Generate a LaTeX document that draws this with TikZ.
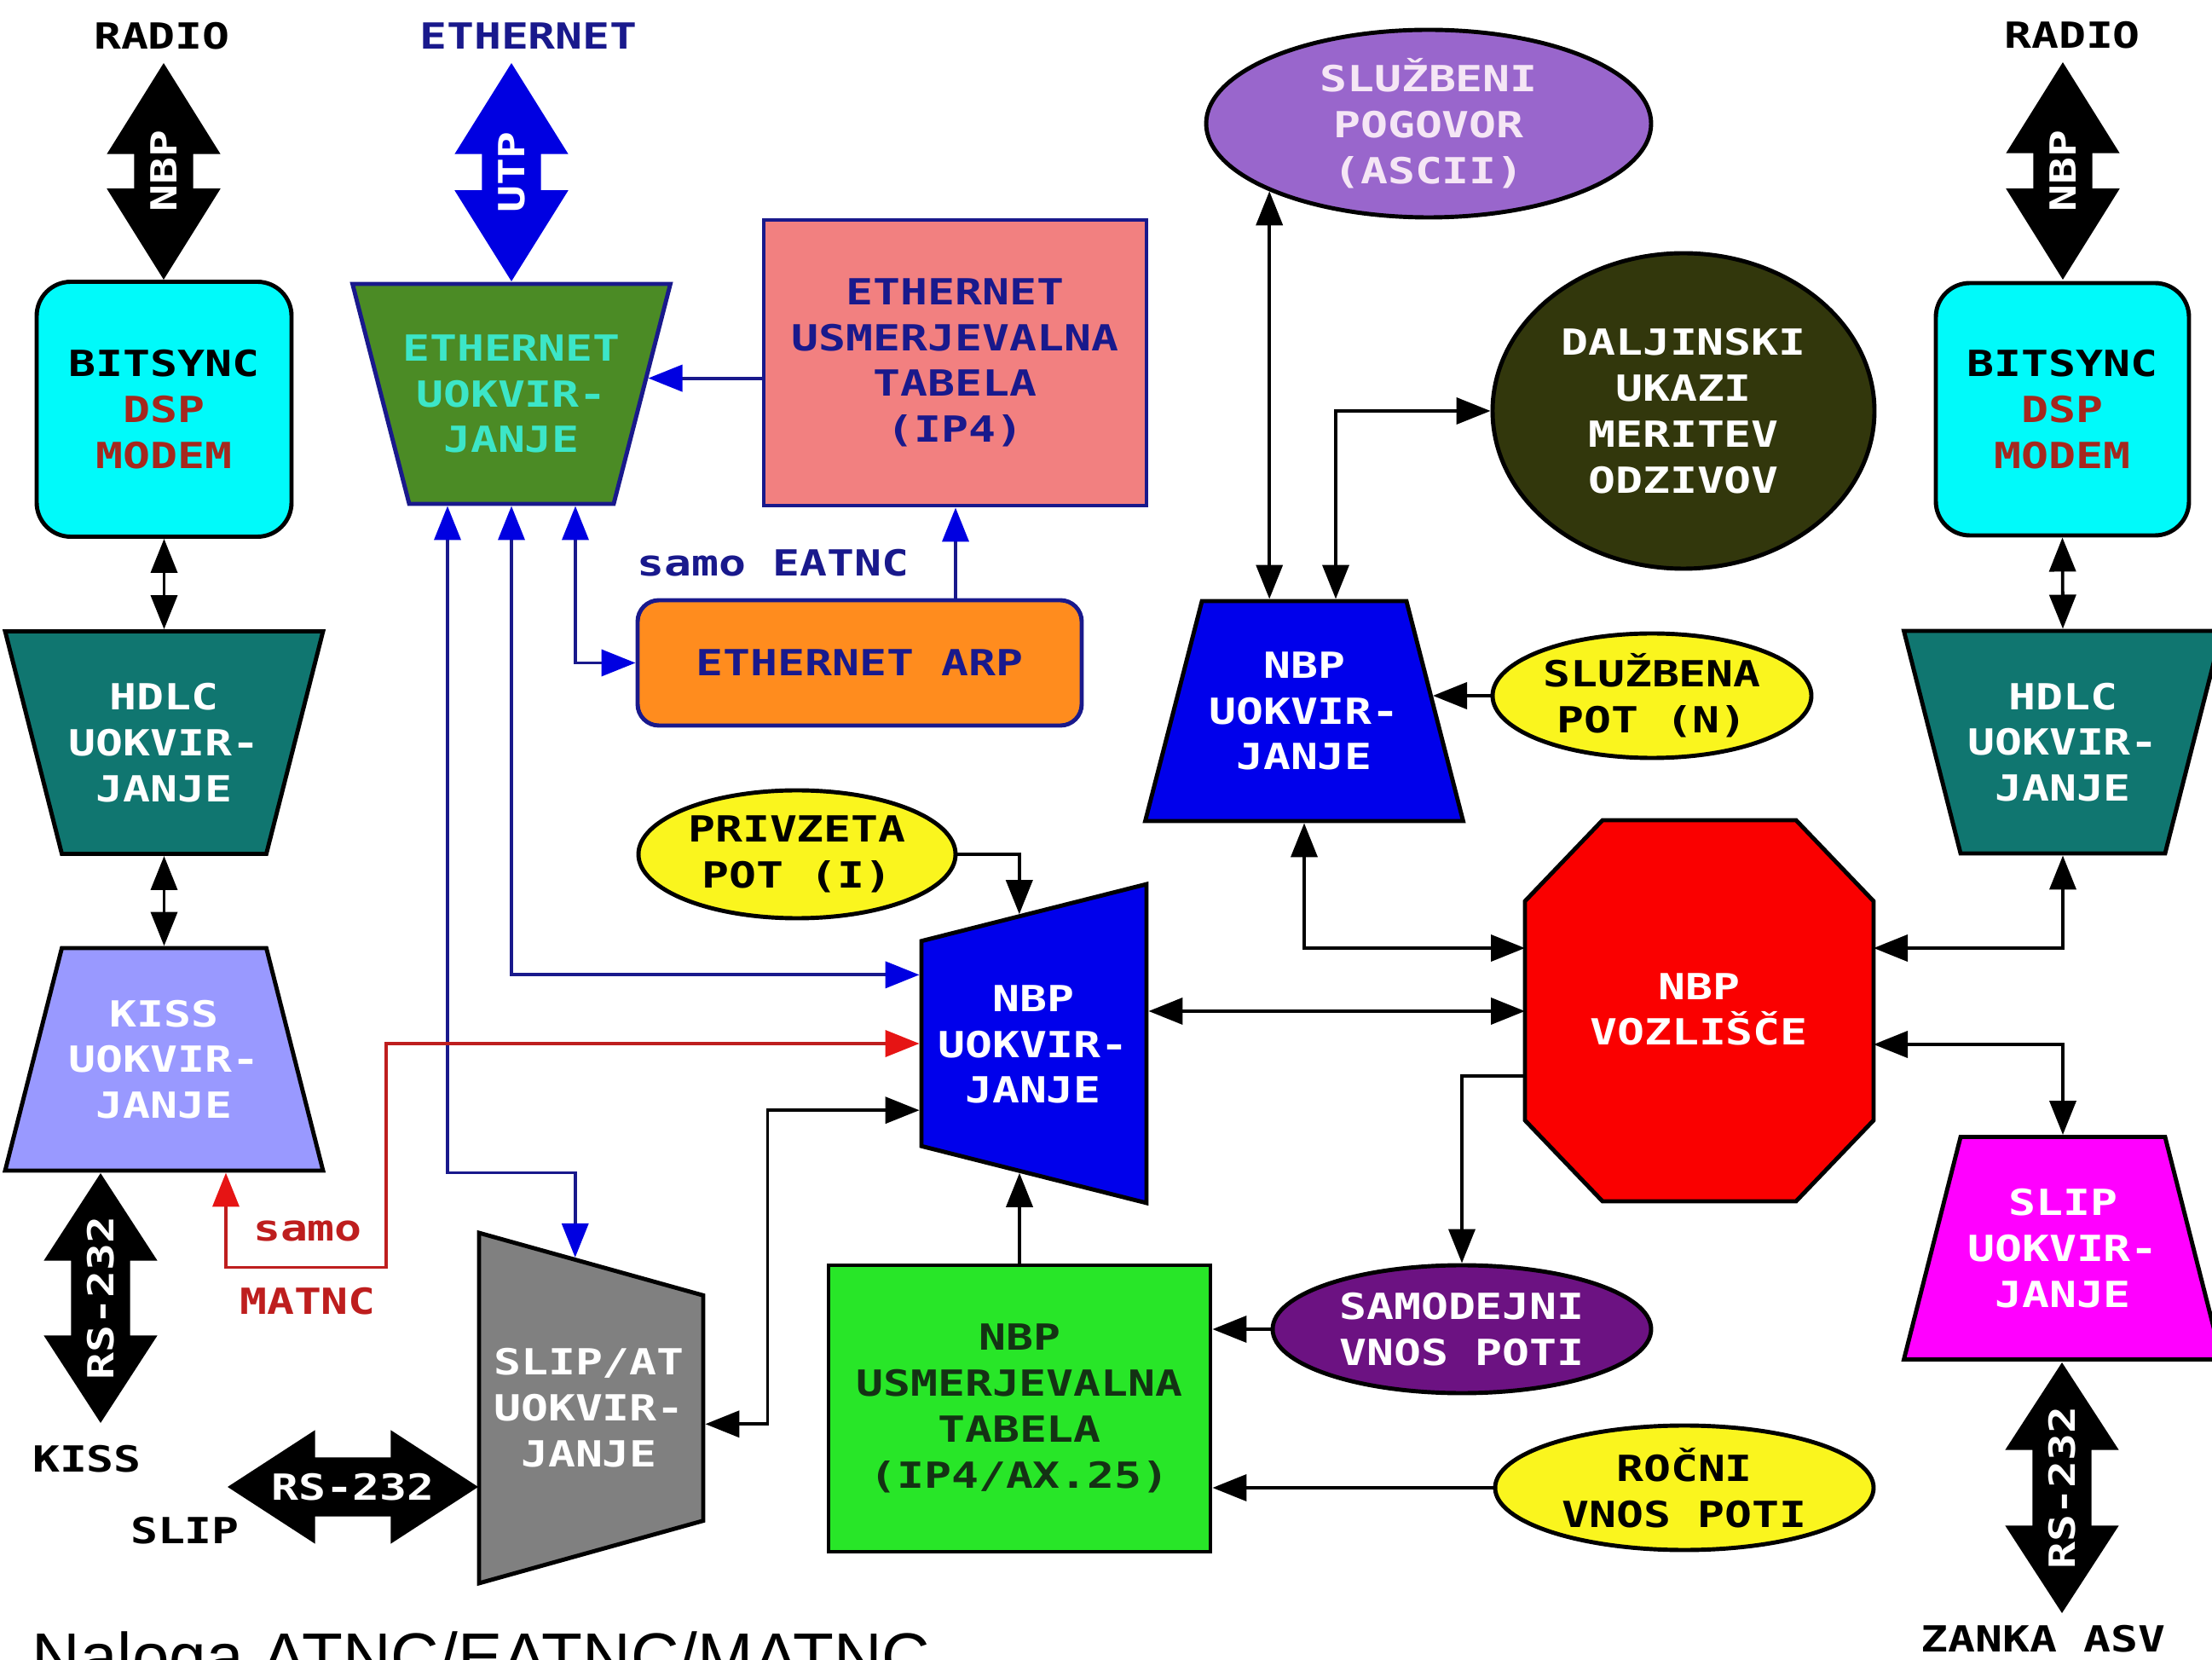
\documentclass[tikz,border=0pt]{standalone}
\usepackage{fontspec}
\usetikzlibrary{shapes.geometric, shapes.arrows, arrows.meta, calc}

\newfontfamily\boxfont[FakeStretch=1.26]{DejaVu Sans Mono}
\newfontfamily\titlefont{Liberation Sans}

\definecolor{navyline}{RGB}{25,25,140}
\definecolor{bluetip}{RGB}{0,0,225}
\definecolor{cyanfill}{RGB}{0,250,250}
\definecolor{modemred}{RGB}{165,40,30}
\definecolor{tealfill}{RGB}{16,118,112}
\definecolor{lavfill}{RGB}{153,153,255}
\definecolor{ethgreen}{RGB}{75,139,37}
\definecolor{turqtext}{RGB}{60,230,200}
\definecolor{pinkfill}{RGB}{242,128,128}
\definecolor{orangefill}{RGB}{255,140,30}
\definecolor{nbpblue}{RGB}{0,0,235}
\definecolor{yellowfill}{RGB}{250,245,30}
\definecolor{tabgreen}{RGB}{40,230,40}
\definecolor{tabtext}{RGB}{20,50,20}
\definecolor{nodered}{RGB}{250,0,0}
\definecolor{autopurple}{RGB}{108,18,130}
\definecolor{talklilac}{RGB}{153,102,204}
\definecolor{talktext}{RGB}{245,230,245}
\definecolor{remoteolive}{RGB}{50,55,12}
\definecolor{slipmagenta}{RGB}{255,0,255}
\definecolor{slipgray}{RGB}{128,128,128}
\definecolor{matncred}{RGB}{190,30,30}
\definecolor{redtip}{RGB}{230,20,20}

\tikzset{
  lbl/.style={font=\boxfont\bfseries\fontsize{12}{15.3}\selectfont, align=center, inner sep=0pt},
  box/.style={draw, line width=1.4pt, inner sep=0pt},
  trapup/.style={box, trapezium, trapezium left angle=74.5, trapezium right angle=74.5,
    trapezium stretches=true, inner sep=0.5mm, minimum width=37.3mm, minimum height=26.1mm},
  trapdown/.style={trapup, trapezium left angle=105.5, trapezium right angle=105.5},
  oval/.style={box, ellipse},
  fatarrow/.style={double arrow, double arrow head extend=3.2mm, double arrow tip angle=64,
    minimum height=25.4mm, minimum width=13.2mm, inner xsep=0.5mm, inner ysep=3.4mm, fill=black},
  arrowtext/.style={lbl, text=white},
  conn/.style={line width=1.1pt},
  bconn/.style={conn, draw=navyline, >={Triangle[length=4mm,width=3.1mm,color=bluetip]}},
  rconn/.style={conn, draw=matncred, >={Triangle[length=4mm,width=3.1mm,color=redtip]}}
}

\begin{document}
\begin{tikzpicture}[x=1mm, y=-1mm, >={Triangle[length=4mm,width=3.1mm]}]
  \useasboundingbox (0,0) rectangle (259.5,194.7);

  % radio side, left
  \node[lbl] (radiol) at (19.0,4.2) {RADIO};
  \node[fatarrow, rotate=90] (nbpl) at (19.2,20.1) {};
  \node[arrowtext, rotate=90] (nbpl-t) at (nbpl) {NBP};
  \node[box, lbl, fill=cyanfill, rounded corners=4mm, minimum width=29.9mm, minimum height=29.9mm] (bitsl) at (19.25,48.0)
    {BITSYNC\\\textcolor{modemred}{DSP}\\\textcolor{modemred}{MODEM}};
  \node[trapdown, fill=tealfill] (hdlcl) at (19.25,87.1) {};
  \node[lbl, text=white] (hdlcl-t) at (hdlcl) {HDLC\\UOKVIR-\\JANJE};
  \node[trapup, fill=lavfill] (kissl) at (19.25,124.25) {};
  \node[lbl, text=white] (kissl-t) at (kissl) {KISS\\UOKVIR-\\JANJE};
  \node[fatarrow, rotate=90, minimum height=29.3mm, double arrow tip angle=66] (rskiss) at (11.8,152.25) {};
  \node[arrowtext, rotate=90] (rskiss-t) at (rskiss) {RS-232};
  \node[lbl] (kisslbl) at (10.2,171.1) {KISS};
  \node[lbl] (sliplbl) at (21.7,179.5) {SLIP};
  \node[fatarrow, minimum height=29.4mm, double arrow tip angle=66] (rsslip) at (41.4,174.4) {};
  \node[arrowtext] (rsslip-t) at (rsslip) {RS-232};
  \node[lbl, text=matncred] (samom) at (36.1,144.4) {samo};
  \node[lbl, text=matncred] (matnc) at (36.1,152.6) {MATNC};

  % slip/at framing, turned on its side
  \node[trapup, fill=slipgray, minimum width=41.1mm, minimum height=26.3mm, rotate=-90] (slipat) at (69.35,165.15) {};
  \node[lbl, text=white] (slipat-t) at (69.1,165.1) {SLIP/AT\\UOKVIR-\\JANJE};

  % ethernet side
  \node[lbl, text=navyline] (ethlbl) at (62.0,4.2) {ETHERNET};
  \node[fatarrow, fill=bluetip, rotate=90, minimum height=25.6mm] (utp) at (60.0,20.2) {};
  \node[arrowtext, rotate=90] (utp-t) at (utp) {UTP};
  \node[trapdown, draw=navyline, fill=ethgreen, minimum height=25.8mm] (ethf) at (60.0,46.2) {};
  \node[lbl, text=turqtext] (ethf-t) at (ethf) {ETHERNET\\UOKVIR-\\JANJE};
  \node[box, lbl, draw=navyline, fill=pinkfill, text=navyline, minimum width=44.9mm, minimum height=33.5mm] (ethtab) at (112.05,42.55)
    {ETHERNET\\USMERJEVALNA\\TABELA\\(IP4)};
  \node[lbl, text=navyline] (eatnc) at (90.7,66.0) {samo EATNC};
  \node[box, lbl, draw=navyline, fill=orangefill, text=navyline, rounded corners=2.5mm, minimum width=52.1mm, minimum height=14.7mm] (arp) at (100.85,77.75)
    {ETHERNET ARP};

  % nbp framing in the middle, turned on its side
  \node[oval, lbl, fill=yellowfill, minimum width=37.2mm, minimum height=15mm] (privz) at (93.5,100.2) {PRIVZETA\\POT (I)};
  \node[trapup, fill=nbpblue, minimum width=37.4mm, minimum height=26.4mm, rotate=90] (nbpc) at (121.3,122.4) {};
  \node[lbl, text=white] (nbpc-t) at (121.2,122.5) {NBP\\UOKVIR-\\JANJE};
  \node[box, lbl, fill=tabgreen, text=tabtext, minimum width=44.8mm, minimum height=33.6mm] (nbptab) at (119.6,165.2)
    {NBP\\USMERJEVALNA\\TABELA\\(IP4/AX.25)};

  % node (octagon) and route entries
  \node[minimum width=40.9mm, minimum height=44.7mm, inner sep=0pt, outer sep=0pt] (vozl) at (199.35,118.55) {};
  \filldraw[fill=nodered, line width=1.4pt]
    ([xshift=9.1mm]vozl.north west) -- ([xshift=-9.1mm]vozl.north east) -- ([yshift=-9.5mm]vozl.north east)
    -- ([yshift=9.5mm]vozl.south east) -- ([xshift=-9.1mm]vozl.south east) -- ([xshift=9.1mm]vozl.south west)
    -- ([yshift=9.5mm]vozl.south west) -- ([yshift=-9.5mm]vozl.north west) -- cycle;
  \node[lbl, text=white] (vozl-t) at (199.3,118.4) {NBP\\VOZLIŠČE};
  \node[oval, lbl, fill=autopurple, text=white, minimum width=44.4mm, minimum height=15mm] (samod) at (171.5,155.9) {SAMODEJNI\\VNOS POTI};
  \node[oval, lbl, fill=yellowfill, minimum width=44.4mm, minimum height=14.6mm] (rocni) at (197.6,174.5) {ROČNI\\VNOS POTI};

  % upper nbp framing
  \node[trapup, fill=nbpblue, minimum height=25.8mm] (nbpu) at (153.0,83.4) {};
  \node[lbl, text=white] (nbpu-t) at (nbpu) {NBP\\UOKVIR-\\JANJE};
  \node[oval, lbl, fill=talklilac, text=talktext, minimum width=52.2mm, minimum height=22mm] (sluzp) at (167.6,14.5) {SLUŽBENI\\POGOVOR\\(ASCII)};
  \node[oval, lbl, fill=remoteolive, text=white, minimum width=44.8mm, minimum height=37mm] (dalj) at (197.5,48.2) {DALJINSKI\\UKAZI\\MERITEV\\ODZIVOV};
  \node[oval, lbl, fill=yellowfill, minimum width=37.4mm, minimum height=14.6mm] (sluzn) at (193.8,81.6) {SLUŽBENA\\POT (N)};

  % radio side, right
  \node[lbl] (radior) at (243.1,4.1) {RADIO};
  \node[fatarrow, rotate=90, minimum height=25.5mm] (nbpr) at (242.0,20.05) {};
  \node[arrowtext, rotate=90] (nbpr-t) at (nbpr) {NBP};
  \node[box, lbl, fill=cyanfill, rounded corners=4mm, minimum width=29.7mm, minimum height=29.6mm] (bitsr) at (241.95,48.0)
    {BITSYNC\\\textcolor{modemred}{DSP}\\\textcolor{modemred}{MODEM}};
  \node[trapdown, fill=tealfill] (hdlcr) at (242.0,87.05) {};
  \node[lbl, text=white] (hdlcr-t) at (hdlcr) {HDLC\\UOKVIR-\\JANJE};
  \node[trapup, fill=slipmagenta] (slipr) at (242.0,146.4) {};
  \node[lbl, text=white] (slipr-t) at (slipr) {SLIP\\UOKVIR-\\JANJE};
  \node[fatarrow, rotate=90, minimum height=29.4mm, double arrow tip angle=66] (rsasv) at (241.9,174.5) {};
  \node[arrowtext, rotate=90] (rsasv-t) at (rsasv) {RS-232};
  \node[lbl] (zanka) at (239.7,192.2) {ZANKA ASV};

  \node[font=\titlefont\fontsize{22.3}{26}\selectfont, anchor=base west, inner sep=0pt] (title) at (3.7,197.0) {Naloga ATNC/EATNC/MATNC};

  % points on the slanted edges
  \coordinate (ethf-in) at ($(ethf.top right corner)!0.43!(ethf.bottom right corner)$);
  \coordinate (slipat-top) at ($(slipat.bottom left corner)!0.43!(slipat.top left corner)$);
  \coordinate (slipat-r) at ($(slipat.top left corner)!0.57!(slipat.top right corner)$);
  \coordinate (nbpc-top) at ($(nbpc.top right corner)!0.436!(nbpc.bottom right corner)$);
  \coordinate (nbpc-bot) at ($(nbpc.top left corner)!0.436!(nbpc.bottom left corner)$);
  \coordinate (nbpc-l1) at ($(nbpc.top right corner)!0.17!(nbpc.top left corner)$);
  \coordinate (nbpc-l2) at ($(nbpc.top right corner)!0.50!(nbpc.top left corner)$);
  \coordinate (nbpc-l3) at ($(nbpc.top right corner)!0.82!(nbpc.top left corner)$);
  \coordinate (nbpc-r) at ($(nbpc.bottom right corner)!0.40!(nbpc.bottom left corner)$);
  \coordinate (nbpu-r) at ($(nbpu.top right corner)!0.43!(nbpu.bottom right corner)$);

  % left and right stacks
  \draw[conn, <->] (bitsl.south) -- (hdlcl.north);
  \draw[conn, <->] (hdlcl.south) -- (kissl.north);
  \draw[conn, <->] (bitsr.south) -- (hdlcr.north);

  % ethernet links
  \draw[bconn, ->] (ethtab.west |- ethf-in) -- (ethf-in);
  \draw[bconn, <->] ([xshift=-7.5mm]ethf.south) -- ++(0,78.2) -| (slipat-top);
  \draw[bconn, <->] (ethf.south) |- (nbpc-l1);
  \draw[bconn, <->] ([xshift=7.5mm]ethf.south) |- (arp.west);
  \draw[bconn, ->] ([xshift=11.25mm]arp.north) -- ([xshift=11.25mm]arp.north |- ethtab.south);

  % kiss link, matnc only
  \draw[rconn, <->] ([xshift=7.25mm]kissl.south) -- ++(0,11.1) -- ++(18.8,0) |- (nbpc-l2);

  % nbp links
  \draw[conn, ->] (privz.east) -| (nbpc-top);
  \draw[conn, ->] (nbptab.north) -- (nbptab.north |- nbpc-bot);
  \draw[conn, <->] (slipat-r) -- ++(7.3,0) |- (nbpc-l3);
  \draw[conn, <->] (nbpc-r) -- (nbpc-r -| vozl.west);
  \draw[conn, <->] (nbpu.south) |- ([yshift=7.35mm]vozl.west);
  \draw[conn, ->] ([yshift=-7.65mm]vozl.west) -| (samod.north);
  \draw[conn, ->] (samod.west) -- (samod.west -| nbptab.east);
  \draw[conn, ->] (rocni.west) -- (rocni.west -| nbptab.east);
  \draw[conn, <->] ([yshift=7.35mm]vozl.east) -| (hdlcr.south);
  \draw[conn, <->] ([yshift=-3.95mm]vozl.east) -| (slipr.north);
  \draw[conn, <->] (sluzp.203) -- (sluzp.203 |- nbpu.north);
  \draw[conn, <->] ([xshift=3.7mm]nbpu.north) |- (dalj.west);
  \draw[conn, ->] (sluzn.west) -- (sluzn.west -| nbpu-r);
\end{tikzpicture}
\end{document}
